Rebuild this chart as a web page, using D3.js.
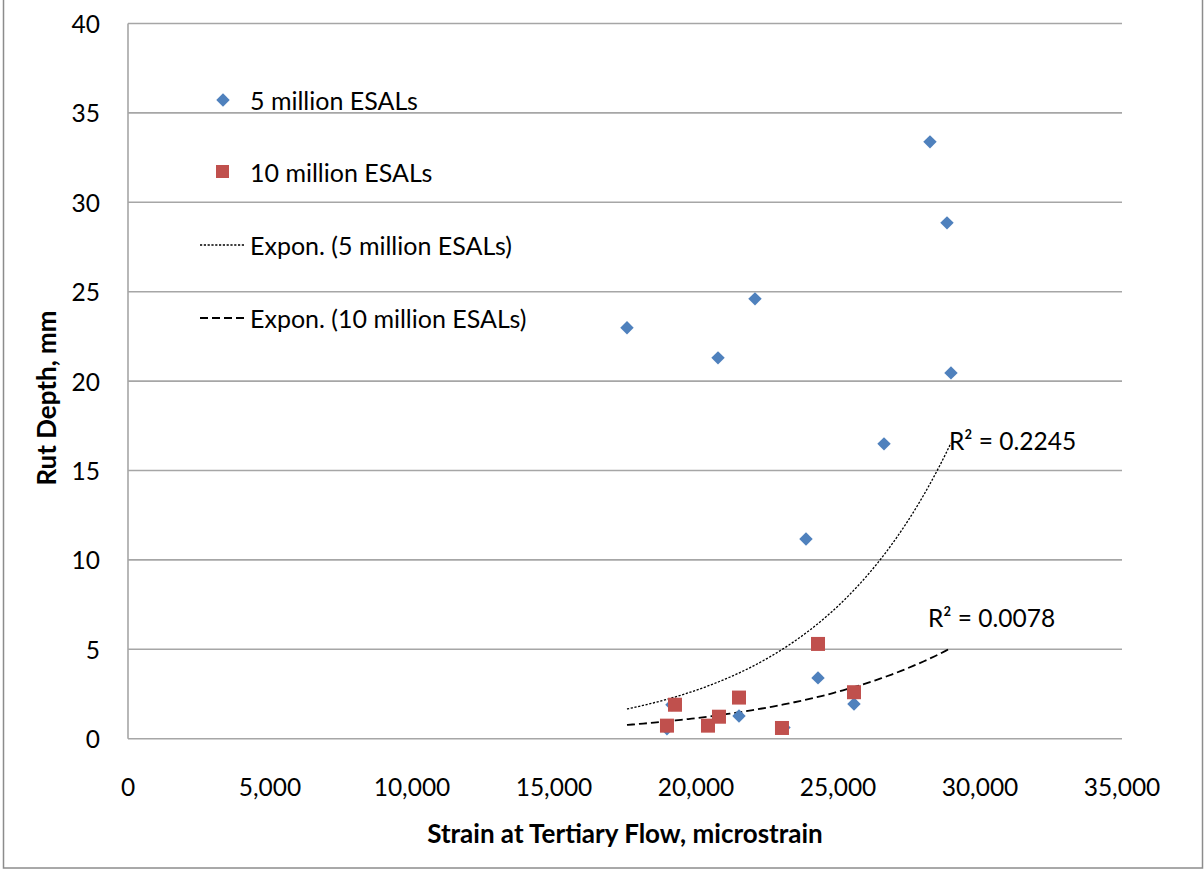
<!DOCTYPE html>
<html>
<head>
<meta charset="utf-8">
<script src="https://cdn.jsdelivr.net/npm/d3@7"></script>
<style>
  html, body { margin: 0; padding: 0; background: #fff; }
  svg { display: block; font-family: Lato, "Open Sans", sans-serif; }
  .tick-label { font-size: 24.5px; fill: #000; }
  .legend-label { font-size: 25px; fill: #000; }
  .axis-title { font-size: 26px; font-weight: bold; fill: #000; }
</style>
</head>
<body>
<svg id="chart" width="1204" height="870"></svg>
<script>
// values
const xTicks = [0, 5000, 10000, 15000, 20000, 25000, 30000, 35000];
const yTicks = [0, 5, 10, 15, 20, 25, 30, 35, 40];

const esal5X = [17570, 18978, 19154, 20775, 21514, 22077, 23098, 23873, 24296, 25563, 26620, 28239, 28838, 28978];
const esal5Y = [22.98, 0.56, 1.9, 21.3, 1.27, 24.6, 0.62, 11.17, 3.4, 1.94, 16.49, 33.38, 28.85, 20.46];

const esal10X = [18978, 19260, 20422, 20809, 21514, 23027, 24296, 25563];
const esal10Y = [0.73, 1.9, 0.73, 1.23, 2.3, 0.6, 5.3, 2.6];

// exponential trendlines (Excel), end values
const trendX = [17570, 28978];
const trend5Y = [1.66, 16.54];
const trend10Y = [0.77, 5.07];
const r2Labels = ['R² = 0.2245', 'R² = 0.0078'];

const legendLabels = ['5 million ESALs', '10 million ESALs', 'Expon. (5 million ESALs)', 'Expon. (10 million ESALs)'];

const BLUE = '#4F81BD', RED = '#C0504D', GRID = '#A6A6A6';

const svg = d3.select('#chart');
const x = d3.scaleLinear().domain([0, 35000]).range([128, 1122]);
const y = d3.scaleLinear().domain([0, 40]).range([738.7, 23.5]);

// outer chart border
svg.append('rect').attr('x', 3.5).attr('y', -2).attr('width', 1199).attr('height', 870)
  .attr('fill', 'none').attr('stroke', '#8C8C8C').attr('stroke-width', 1.5);

// horizontal gridlines
svg.append('g').selectAll('line').data(yTicks).enter().append('line')
  .attr('x1', x(0)).attr('x2', x(35000))
  .attr('y1', d => y(d)).attr('y2', d => y(d))
  .attr('stroke', GRID).attr('stroke-width', 1.6);

// y axis line
svg.append('line').attr('x1', x(0)).attr('x2', x(0)).attr('y1', y(40)).attr('y2', y(0))
  .attr('stroke', GRID).attr('stroke-width', 1.6);

// tick labels
svg.append('g').selectAll('text').data(yTicks).enter().append('text')
  .attr('class', 'tick-label')
  .attr('x', 100).attr('y', d => y(d))
  .attr('text-anchor', 'end').attr('dominant-baseline', 'central')
  .text(d => d);

const fmt = d3.format(',');
svg.append('g').selectAll('text').data(xTicks).enter().append('text')
  .attr('class', 'tick-label')
  .attr('x', d => x(d)).attr('y', 786)
  .attr('text-anchor', 'middle').attr('dominant-baseline', 'central')
  .text(d => fmt(d));

// axis titles
svg.append('text').attr('class', 'axis-title')
  .attr('x', 625).attr('y', 833)
  .attr('text-anchor', 'middle').attr('dominant-baseline', 'central')
  .text('Strain at Tertiary Flow, microstrain');

svg.append('text').attr('class', 'axis-title')
  .attr('transform', 'translate(46,398) rotate(-90)')
  .attr('text-anchor', 'middle').attr('dominant-baseline', 'central')
  .text('Rut Depth, mm');

// trendlines
function expCurve(ends) {
  const [x0, x1] = trendX;
  const [y0, y1] = ends;
  return d3.range(0, 61).map(i => {
    const xv = x0 + (x1 - x0) * i / 60;
    return [xv, y0 * Math.pow(y1 / y0, (xv - x0) / (x1 - x0))];
  });
}
const line = d3.line().x(d => x(d[0])).y(d => y(d[1])).curve(d3.curveMonotoneX);

svg.append('path').attr('d', line(expCurve(trend5Y)))
  .attr('fill', 'none').attr('stroke', '#000').attr('stroke-width', 1.3)
  .attr('stroke-dasharray', '2.2,1.6');
svg.append('path').attr('d', line(expCurve(trend10Y)))
  .attr('fill', 'none').attr('stroke', '#000').attr('stroke-width', 1.8)
  .attr('stroke-dasharray', '8,4');

// markers
const diamond = d3.symbol().type(d3.symbolDiamond2).size(115);
svg.append('g').selectAll('path').data(esal5X).enter().append('path')
  .attr('d', diamond)
  .attr('transform', (d, i) => `translate(${x(d)},${y(esal5Y[i])})`)
  .attr('fill', BLUE);

svg.append('g').selectAll('rect').data(esal10X).enter().append('rect')
  .attr('x', d => x(d) - 7).attr('y', (d, i) => y(esal10Y[i]) - 7)
  .attr('width', 14).attr('height', 14)
  .attr('fill', RED);

// R² labels
svg.append('text').attr('class', 'tick-label')
  .attr('x', x(trendX[1]) - 2).attr('y', 440).attr('dominant-baseline', 'central')
  .text(r2Labels[0]);
svg.append('text').attr('class', 'tick-label')
  .attr('x', 928).attr('y', 617).attr('dominant-baseline', 'central')
  .text(r2Labels[1]);

// legend
const legend = svg.append('g');
const legY = [100, 172, 245, 318];
legend.append('path').attr('d', diamond).attr('transform', `translate(223,${legY[0]})`).attr('fill', BLUE);
legend.append('rect').attr('x', 216).attr('y', legY[1] - 7).attr('width', 13).attr('height', 13).attr('fill', RED);
legend.append('line').attr('x1', 200).attr('x2', 244).attr('y1', legY[2]).attr('y2', legY[2])
  .attr('stroke', '#000').attr('stroke-width', 1.3).attr('stroke-dasharray', '2.2,1.6');
legend.append('line').attr('x1', 200).attr('x2', 244).attr('y1', legY[3]).attr('y2', legY[3])
  .attr('stroke', '#000').attr('stroke-width', 1.8).attr('stroke-dasharray', '8,4');
legend.selectAll('text').data(legendLabels).enter().append('text')
  .attr('class', 'legend-label')
  .attr('x', 250).attr('y', (d, i) => legY[i])
  .attr('dominant-baseline', 'central')
  .text(d => d);
</script>
</body>
</html>
